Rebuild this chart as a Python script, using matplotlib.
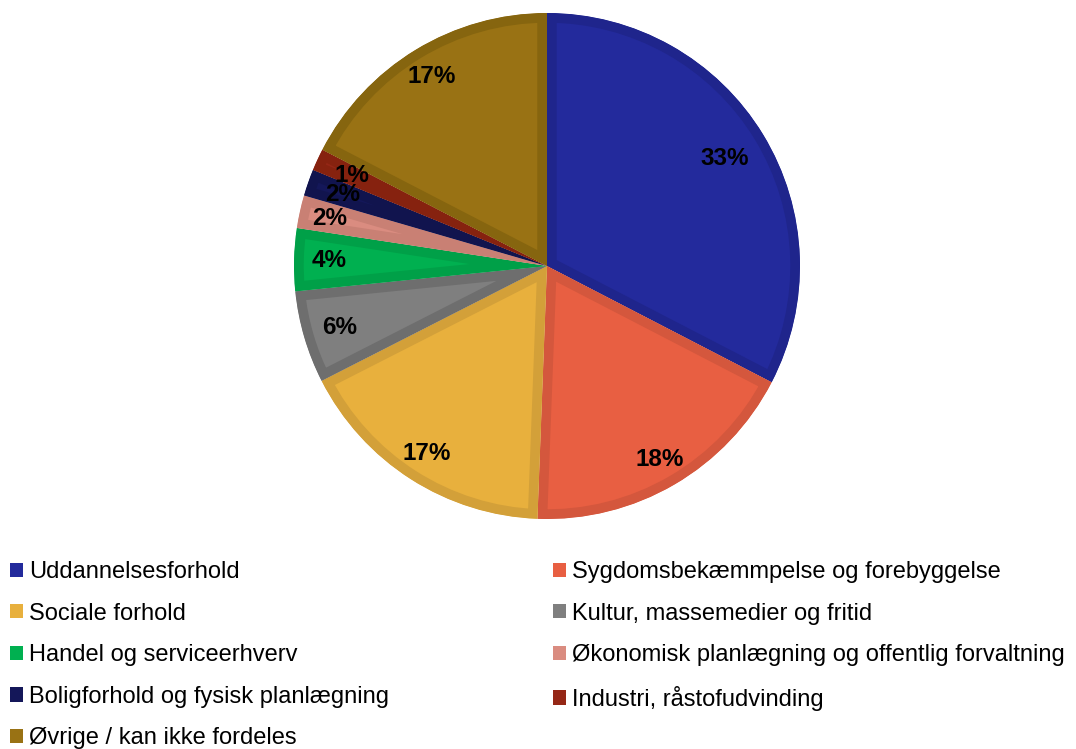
import matplotlib
matplotlib.use("Agg")
import matplotlib.pyplot as plt
import numpy as np
from matplotlib.patches import Patch

plt.rcParams["font.family"] = ["Liberation Sans", "DejaVu Sans"]

# ── Data ──
categories = [
    "Uddannelsesforhold",
    "Sygdomsbekæmmpelse og forebyggelse",
    "Sociale forhold",
    "Kultur, massemedier og fritid",
    "Handel og serviceerhverv",
    "Økonomisk planlægning og offentlig forvaltning",
    "Boligforhold og fysisk planlægning",
    "Industri, råstofudvinding",
    "Øvrige / kan ikke fordeles",
]
shares = [32.6, 18.0, 16.9, 5.9, 4.0, 2.1, 1.7, 1.4, 17.4]

# ── Styles ──
fills = ["#232A9C", "#E85F42", "#E8B03D", "#7F7F7F", "#00B050",
         "#DA8C80", "#141759", "#952716", "#997214"]
edges = ["#1F258C", "#D4573D", "#D3A039", "#6E6E6E", "#00A048",
         "#C98074", "#11144E", "#86220F", "#86650F"]
label_dist = [0.82, 0.885, 0.88, 0.855, 0.86, 0.88, 0.855, 0.85, 0.875]

W, H = 1076, 749
fig = plt.figure(figsize=(W / 100, H / 100), dpi=100)

cx, cy, r = 547, 266, 253
ax = fig.add_axes([(cx - r) / W, 1 - (cy + r) / H, 2 * r / W, 2 * r / H])

wedges, _ = ax.pie(shares, colors=fills, startangle=90, counterclock=False,
                   wedgeprops=dict(linewidth=14, joinstyle="miter"))
for w, ec in zip(wedges, edges):
    w.set_edgecolor(ec)
    w.set_clip_on(True)
    w.set_clip_path(w)  # keep the border inside each wedge

for w, v, d in zip(wedges, shares, label_dist):
    mid = np.deg2rad((w.theta1 + w.theta2) / 2)
    ax.text(d * np.cos(mid), d * np.sin(mid), f"{v:.0f}%",
            ha="center", va="center", fontsize=17.5, fontweight="bold")

ax.set_xlim(-1, 1)
ax.set_ylim(-1, 1)
ax.set_aspect("equal")
ax.axis("off")

# ── Legend: two columns, row-wise order ──
handles = [Patch(facecolor=c, edgecolor="none") for c in fills]
leg_kw = dict(loc="upper left", frameon=False, fontsize=17,
              handlelength=0.55, handleheight=0.55, handletextpad=0.25,
              labelspacing=0.83, borderaxespad=0, borderpad=0)
fig.legend(handles[0::2], categories[0::2],
           bbox_to_anchor=(10 / W, 1 - 561 / H), **leg_kw)
fig.legend(handles[1::2], categories[1::2],
           bbox_to_anchor=(553 / W, 1 - 561 / H), **leg_kw)

fig.savefig("out.png", dpi=100)
